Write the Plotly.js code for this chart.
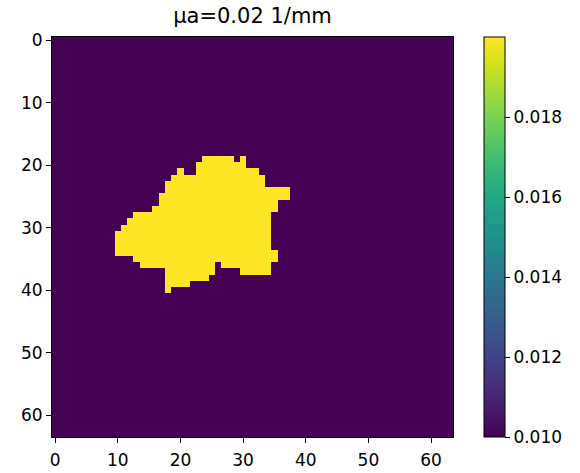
<!DOCTYPE html>
<html>
<head>
<meta charset="utf-8">
<script src="https://cdn.plot.ly/plotly-3.0.1.min.js"></script>
<style>html,body{margin:0;padding:0;background:#fff;}#chart{width:580px;height:473px;}</style>
</head>
<body>
<div id="chart"></div>
<script>
// Grid size and values
const gridSize = 64;
const baseValue = 0.01;
const blobValue = 0.02;

// Blob rows as horizontal runs: row index, first column, last column
const runRow   = [19,19,20,21,21,22,23,24,25,26,27,28,29,30,31,32,33,34,35,36,36,37,37,38,39,40];
const runStart = [24,30,23,20,23,19,18,18,17,17,16,13,12,11,10,10,10,10,13,14,27,18,30,18,18,18];
const runEnd   = [28,30,30,20,32,33,33,37,37,35,35,34,34,34,34,34,34,35,35,25,34,25,34,24,21,18];

// Tick labels
const axisTicks = [0,10,20,30,40,50,60];
const cbarTicks = [0.010,0.012,0.014,0.016,0.018];
const cbarTickText = ["0.010","0.012","0.014","0.016","0.018"];
const titleText = "μa=0.02 1/mm";

const idx = [];
for (let i = 0; i < gridSize; i++) idx.push(i);
const z = [];
for (let r = 0; r < gridSize; r++) z.push(new Array(gridSize).fill(baseValue));
for (let k = 0; k < runRow.length; k++) {
  for (let c = runStart[k]; c <= runEnd[k]; c++) z[runRow[k]][c] = blobValue;
}

const font = {family: "DejaVu Sans", size: 17, color: "#000"};

const trace = {
  type: "heatmap",
  z: z, x: idx, y: idx,
  colorscale: "Viridis",
  zmin: baseValue, zmax: blobValue,
  hoverinfo: "skip",
  colorbar: {
    x: (484 - 52) / 401, xref: "paper", xanchor: "left",
    y: 0.5, yanchor: "middle",
    len: 1.0, lenmode: "fraction",
    thickness: 21, thicknessmode: "pixels",
    xpad: 0, ypad: 0,
    outlinewidth: 1, outlinecolor: "#000",
    tickmode: "array", tickvals: cbarTicks, ticktext: cbarTickText,
    ticks: "outside", ticklen: 5, tickwidth: 1, tickcolor: "#000",
    tickfont: font
  }
};

const axisCommon = {
  tickmode: "array", tickvals: axisTicks, ticktext: axisTicks.map(String),
  ticks: "outside", ticklen: 5, tickwidth: 1, tickcolor: "#000",
  showline: true, mirror: true, linecolor: "#000", linewidth: 1,
  showgrid: false, zeroline: false, tickfont: font
};

const layout = {
  width: 580, height: 473,
  margin: {l: 52, r: 127, t: 37, b: 36, pad: 0},
  paper_bgcolor: "#fff", plot_bgcolor: "#fff",
  title: {text: titleText, x: (52 + 401/2) / 580, xanchor: "center", xref: "container",
          y: 1 - 16/473, yref: "container", yanchor: "middle",
          font: {family: "DejaVu Sans", size: 21, color: "#000"}},
  xaxis: Object.assign({}, axisCommon, {range: [-0.5, 63.5], ticklabelstandoff: 3}),
  yaxis: Object.assign({}, axisCommon, {range: [63.5, -0.5]}),
  showlegend: false
};

Plotly.newPlot("chart", [trace], layout, {staticPlot: true, displayModeBar: false});
</script>
</body>
</html>
